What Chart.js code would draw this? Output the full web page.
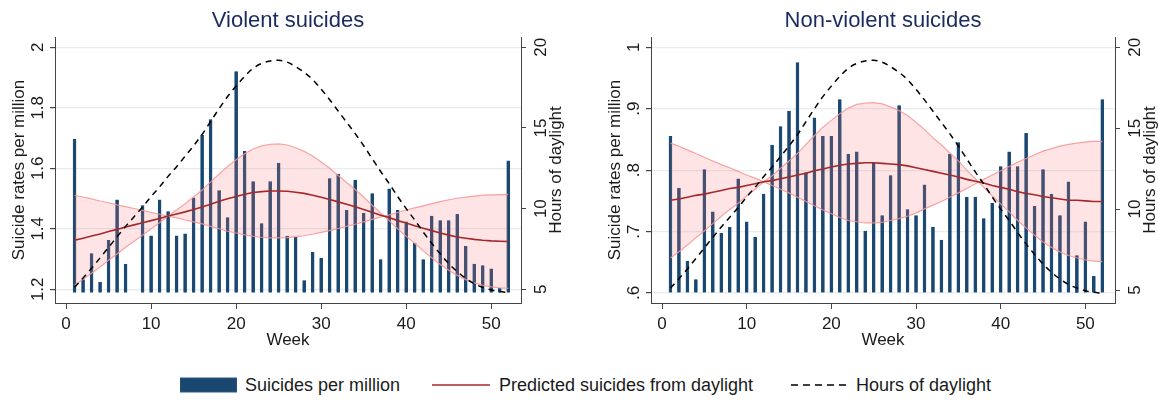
<!DOCTYPE html>
<html>
<head>
<meta charset="utf-8">
<script src="https://cdn.jsdelivr.net/npm/chart.js@4.4.1/dist/chart.umd.min.js"></script>
<style>
  body { margin: 0; background: #fff; width: 1158px; height: 401px; position: relative; overflow: hidden;
         font-family: "Liberation Sans", Arial, sans-serif; color: #1a1a1a; }
  canvas { position: absolute; top: 0; }
  #left { left: 0; }
  #right { left: 579px; }
  .lg { position: absolute; top: 374px; height: 22px; line-height: 22px; font-size: 18px; white-space: nowrap; }
  .lg svg { display: block; }
</style>
</head>
<body>
<canvas id="left" width="579" height="350"></canvas>
<canvas id="right" width="579" height="350"></canvas>

<div class="lg" style="left:180px;"><svg width="57" height="22"><rect x="0" y="4" width="57" height="14" fill="#1a476f" stroke="#2d5a86" stroke-width="1"/></svg></div>
<div class="lg" style="left:245px;">Suicides per million</div>
<div class="lg" style="left:432px;"><svg width="58" height="22"><line x1="0" y1="11" x2="58" y2="11" stroke="#a3282c" stroke-width="1.6"/></svg></div>
<div class="lg" style="left:499px;">Predicted suicides from daylight</div>
<div class="lg" style="left:791px;"><svg width="56" height="22"><line x1="0" y1="11" x2="56" y2="11" stroke="#000" stroke-width="1.5" stroke-dasharray="7,5"/></svg></div>
<div class="lg" style="left:856px;">Hours of daylight</div>

<script>
// week of year
const weeks = [1, 2, 3, 4, 5, 6, 7, 8, 9, 10, 11, 12, 13, 14, 15, 16, 17, 18, 19, 20, 21, 22, 23, 24, 25, 26,
  27, 28, 29, 30, 31, 32, 33, 34, 35, 36, 37, 38, 39, 40, 41, 42, 43, 44, 45, 46, 47, 48, 49, 50, 51, 52];

// hours of daylight (right axis), same in both panels
const daylightHours = [5.12, 5.7, 6.3, 6.95, 7.6, 8.25, 8.9, 9.5, 10.1, 10.75, 11.35, 12.0, 12.6, 13.25, 13.9, 14.6,
  15.4, 16.2, 16.95, 17.6, 18.2, 18.7, 19.0, 19.15, 19.2, 19.08, 18.8, 18.45, 18.0, 17.4, 16.75, 16.05, 15.35,
  14.65, 13.9, 13.1, 12.3, 11.55, 10.75, 10.0, 9.3, 8.55, 7.85, 7.2, 6.6, 6.1, 5.68, 5.35, 5.12, 4.96, 4.86, 4.8];

// Violent suicides per million
const violentRate = [1.696, 1.232, 1.318, 1.223, 1.362, 1.496, 1.283, null, 1.477, 1.377, 1.496, 1.457, 1.377,
  1.383, 1.502, 1.710, 1.761, 1.526, 1.437, 1.920, 1.656, 1.556, 1.417, 1.556, 1.617, 1.376, 1.372, 1.229, 1.322,
  1.302, 1.566, 1.581, 1.462, 1.561, 1.452, 1.516, 1.298, 1.532, 1.462, 1.423, 1.353, 1.298, 1.442, 1.427, 1.427,
  1.448, 1.342, 1.283, 1.278, 1.268, 1.203, 1.625];
const violentPred = [1.362, 1.369, 1.376, 1.383, 1.391, 1.398, 1.406, 1.413, 1.420, 1.427, 1.434, 1.442, 1.449,
  1.456, 1.464, 1.472, 1.481, 1.491, 1.499, 1.507, 1.514, 1.520, 1.523, 1.525, 1.525, 1.524, 1.521, 1.517, 1.511,
  1.504, 1.497, 1.489, 1.481, 1.473, 1.464, 1.455, 1.445, 1.437, 1.427, 1.419, 1.410, 1.402, 1.394, 1.386, 1.379,
  1.373, 1.369, 1.365, 1.362, 1.360, 1.359, 1.358];
const violentCiA = [1.511, 1.505, 1.499, 1.492, 1.486, 1.479, 1.473, 1.467, 1.461, 1.454, 1.448, 1.442, 1.436,
  1.429, 1.423, 1.416, 1.408, 1.400, 1.392, 1.386, 1.380, 1.375, 1.372, 1.370, 1.370, 1.371, 1.374, 1.377, 1.382,
  1.388, 1.394, 1.401, 1.408, 1.415, 1.423, 1.431, 1.439, 1.446, 1.454, 1.462, 1.469, 1.476, 1.483, 1.490, 1.496,
  1.501, 1.505, 1.508, 1.511, 1.512, 1.513, 1.514];
const violentCiB = [1.213, 1.233, 1.253, 1.274, 1.296, 1.317, 1.339, 1.359, 1.379, 1.400, 1.420, 1.442, 1.462,
  1.483, 1.505, 1.528, 1.555, 1.581, 1.606, 1.628, 1.648, 1.664, 1.674, 1.679, 1.681, 1.677, 1.668, 1.656, 1.641,
  1.621, 1.600, 1.576, 1.553, 1.530, 1.505, 1.478, 1.452, 1.427, 1.400, 1.375, 1.352, 1.327, 1.304, 1.282, 1.263,
  1.246, 1.232, 1.221, 1.213, 1.208, 1.205, 1.203];

// Non-violent suicides per million
const nonViolentRate = [0.855, 0.771, 0.652, 0.622, 0.801, 0.732, 0.697, 0.707, 0.786, 0.716, 0.691, 0.761, 0.841,
  0.871, 0.896, 0.975, 0.796, 0.885, 0.855, 0.855, 0.915, 0.826, 0.830, 0.701, 0.811, 0.726, 0.791, 0.905, 0.736,
  0.726, 0.776, 0.707, 0.686, 0.826, 0.845, 0.756, 0.756, 0.721, 0.746, 0.806, 0.830, 0.806, 0.860, 0.741, 0.801,
  0.761, 0.726, 0.781, 0.661, 0.716, 0.627, 0.915];
const nonViolentPred = [0.751, 0.753, 0.756, 0.759, 0.761, 0.764, 0.767, 0.770, 0.772, 0.775, 0.778, 0.781, 0.783,
  0.786, 0.789, 0.792, 0.795, 0.799, 0.802, 0.805, 0.808, 0.810, 0.811, 0.812, 0.812, 0.811, 0.810, 0.809, 0.807,
  0.804, 0.801, 0.798, 0.795, 0.792, 0.789, 0.785, 0.782, 0.779, 0.775, 0.772, 0.769, 0.765, 0.762, 0.760, 0.757,
  0.755, 0.753, 0.751, 0.751, 0.750, 0.749, 0.749];
const nonViolentCiA = [0.844, 0.839, 0.833, 0.827, 0.821, 0.815, 0.809, 0.804, 0.798, 0.792, 0.787, 0.781, 0.775,
  0.769, 0.763, 0.756, 0.749, 0.742, 0.735, 0.729, 0.723, 0.718, 0.716, 0.714, 0.714, 0.715, 0.718, 0.721, 0.725,
  0.730, 0.737, 0.743, 0.749, 0.756, 0.763, 0.770, 0.778, 0.785, 0.792, 0.799, 0.806, 0.813, 0.819, 0.825, 0.831,
  0.835, 0.839, 0.842, 0.844, 0.846, 0.847, 0.847];
const nonViolentCiB = [0.657, 0.667, 0.678, 0.690, 0.701, 0.713, 0.725, 0.736, 0.746, 0.758, 0.769, 0.781, 0.791,
  0.803, 0.815, 0.827, 0.842, 0.856, 0.870, 0.881, 0.892, 0.901, 0.907, 0.909, 0.910, 0.908, 0.903, 0.897, 0.889,
  0.878, 0.866, 0.853, 0.841, 0.828, 0.815, 0.800, 0.786, 0.772, 0.758, 0.745, 0.732, 0.718, 0.706, 0.694, 0.683,
  0.674, 0.667, 0.661, 0.657, 0.654, 0.652, 0.651];

const violentTicks = [1.2, 1.4, 1.6, 1.8, 2];
const nonViolentTicks = [0.6, 0.7, 0.8, 0.9, 1];
const hourTicks = [5, 10, 15, 20];
const weekTicks = [0, 10, 20, 30, 40, 50];

const FONT = '"Liberation Sans", Arial, sans-serif';
const AXIS = '#444';

// Stata style: ".8" instead of "0.8"
const fmt = (v) => String(v).replace(/^0\./, '.');

// titles, rotated y tick labels and axis titles
const panelText = {
  id: 'panelText',
  afterDraw(chart, args, opts) {
    const { ctx, chartArea } = chart;
    const midX = (chartArea.left + chartArea.right) / 2;
    const midY = (chartArea.top + chartArea.bottom) / 2;
    const rot = (txt, x, y) => {
      ctx.save();
      ctx.translate(x, y);
      ctx.rotate(-Math.PI / 2);
      ctx.fillText(txt, 0, 0);
      ctx.restore();
    };
    ctx.save();
    ctx.fillStyle = '#1a1a1a';
    ctx.textAlign = 'center';
    ctx.textBaseline = 'alphabetic';
    ctx.font = '17px ' + FONT;
    chart.scales.y.ticks.forEach((t) => rot(fmt(t.value), chartArea.left - 12, chart.scales.y.getPixelForValue(t.value)));
    chart.scales.y2.ticks.forEach((t) => rot(fmt(t.value), chartArea.right + 25, chart.scales.y2.getPixelForValue(t.value)));
    rot('Suicide rates per million', chartArea.left - 31, midY);
    rot('Hours of daylight', chartArea.right + 40, midY);
    ctx.textBaseline = 'middle';
    ctx.fillText('Week', midX, 340);
    ctx.font = '22px ' + FONT;
    ctx.fillStyle = '#1c2b5e';
    ctx.fillText(opts.title, midX, 21);
    ctx.restore();
  }
};

const xy = (vals) => weeks.map((w, i) => ({ x: w, y: vals[i] }));

function drawPanel(canvasId, p) {
  new Chart(document.getElementById(canvasId), {
    type: 'bar',
    data: {
      datasets: [
        {
          type: 'bar', label: 'Suicides per million', data: xy(p.rate), yAxisID: 'y',
          backgroundColor: '#1a476f', borderColor: '#1f4f7c', borderWidth: 0.5,
          barThickness: 3, base: p.base, order: 5
        },
        {
          type: 'line', label: 'ci', data: xy(p.ciA), yAxisID: 'y',
          borderColor: 'rgba(247,150,150,0.85)', borderWidth: 1.2, pointRadius: 0, fill: false, order: 4
        },
        {
          type: 'line', label: 'ci2', data: xy(p.ciB), yAxisID: 'y',
          borderColor: 'rgba(247,150,150,0.85)', borderWidth: 1.2, pointRadius: 0,
          fill: 1, backgroundColor: 'rgba(250,120,120,0.2)', order: 3
        },
        {
          type: 'line', label: 'Predicted suicides from daylight', data: xy(p.pred), yAxisID: 'y',
          borderColor: '#a3282c', borderWidth: 1.6, pointRadius: 0, fill: false, order: 2
        },
        {
          type: 'line', label: 'Hours of daylight', data: xy(daylightHours), yAxisID: 'y2',
          borderColor: '#000', borderWidth: 1.5, borderDash: [6, 5], pointRadius: 0, fill: false,
          cubicInterpolationMode: 'monotone', order: 1
        }
      ]
    },
    options: {
      responsive: false,
      animation: false,
      layout: { padding: { top: 37, left: 0, right: 0, bottom: 0 } },
      plugins: {
        legend: { display: false },
        tooltip: { enabled: false },
        panelText: { title: p.title }
      },
      scales: {
        x: {
          type: 'linear', min: -1.3, max: 53.5, offset: false,
          afterBuildTicks: (s) => { s.ticks = weekTicks.map((v) => ({ value: v })); },
          afterFit: (s) => { s.height = 47; },
          ticks: { color: '#1a1a1a', font: { family: FONT, size: 17 }, padding: 5, maxRotation: 0 },
          grid: { drawOnChartArea: false, offset: false, tickLength: 6, tickColor: AXIS },
          border: { color: AXIS }
        },
        y: {
          position: 'left', min: p.yMin, max: p.yMax,
          afterBuildTicks: (s) => { s.ticks = p.ticks.map((v) => ({ value: v })); },
          afterFit: (s) => { s.width = p.leftW; },
          ticks: { display: false },
          grid: { color: '#e5edf0', lineWidth: 1.2, tickLength: 5, tickColor: AXIS },
          border: { color: AXIS }
        },
        y2: {
          position: 'right', min: p.hMin, max: p.hMax,
          afterBuildTicks: (s) => { s.ticks = hourTicks.map((v) => ({ value: v })); },
          afterFit: (s) => { s.width = p.rightW; },
          ticks: { display: false },
          grid: { drawOnChartArea: false, tickLength: 5, tickColor: AXIS },
          border: { color: AXIS }
        }
      }
    },
    plugins: [panelText]
  });
}

drawPanel('left', {
  title: 'Violent suicides', rate: violentRate, pred: violentPred, ciA: violentCiA, ciB: violentCiB,
  ticks: violentTicks, yMin: 1.1547, yMax: 2.034, hMin: 4.151, hMax: 20.638, base: 1.189,
  leftW: 55, rightW: 58
});
drawPanel('right', {
  title: 'Non-violent suicides', rate: nonViolentRate, pred: nonViolentPred, ciA: nonViolentCiA, ciB: nonViolentCiB,
  ticks: nonViolentTicks, yMin: 0.5837, yMax: 1.0168, hMin: 4.197, hMax: 20.637, base: 0.6,
  leftW: 72, rightW: 43
});
</script>
</body>
</html>
